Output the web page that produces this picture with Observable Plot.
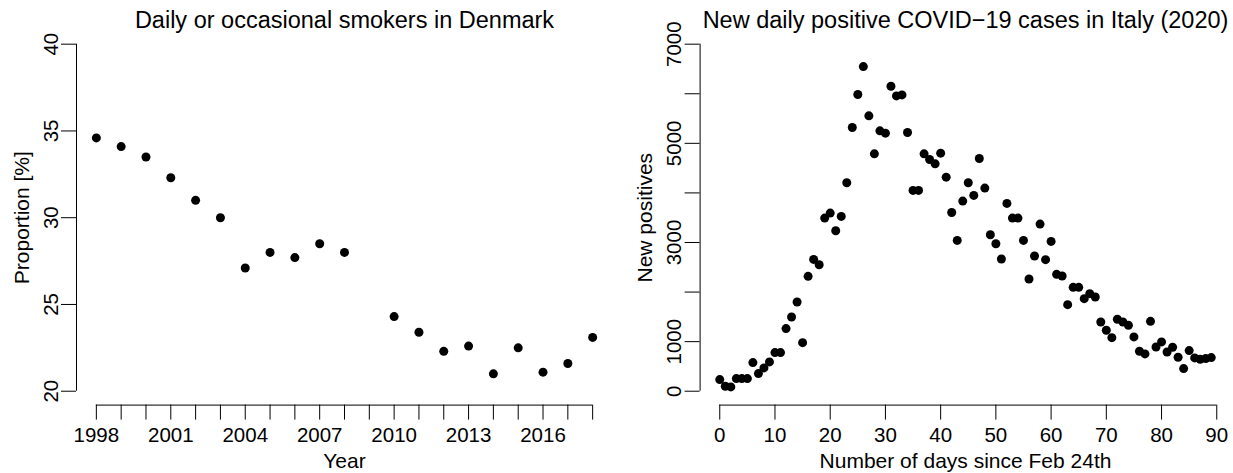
<!DOCTYPE html>
<html>
<head>
<meta charset="utf-8">
<script src="https://cdn.jsdelivr.net/npm/d3@7"></script>
<script src="https://cdn.jsdelivr.net/npm/@observablehq/plot@0.6"></script>
<style>
  html, body { margin: 0; padding: 0; background: #fff; }
  #wrap { display: flex; width: 1233px; height: 473px; overflow: hidden; }
  #wrap svg { display: block; }
</style>
</head>
<body>
<div id="wrap"></div>
<script>
// ---- Left panel data: Daily or occasional smokers in Denmark ----
const smokeYears = [1998, 1999, 2000, 2001, 2002, 2003, 2004, 2005, 2006, 2007, 2008,
                    2010, 2011, 2012, 2013, 2014, 2015, 2016, 2017, 2018];
const smokeProp  = [34.6, 34.1, 33.5, 32.3, 31.0, 30.0, 27.1, 28.0, 27.7, 28.5, 28.0,
                    24.3, 23.4, 22.3, 22.6, 21.0, 22.5, 21.1, 21.6, 23.1];
const smokeXTicks = [1998, 1999, 2000, 2001, 2002, 2003, 2004, 2005, 2006, 2007, 2008,
                     2009, 2010, 2011, 2012, 2013, 2014, 2015, 2016, 2017, 2018];
const smokeXLabels = [1998, 2001, 2004, 2007, 2010, 2013, 2016];
const smokeYTicks = [20, 25, 30, 35, 40];
const smokeYLabels = [20, 25, 30, 35, 40];

// ---- Right panel data: New daily positive COVID-19 cases in Italy (2020) ----
const covidDays = [0, 1, 2, 3, 4, 5, 6, 7, 8, 9, 10, 11, 12, 13, 14, 15, 16, 17, 18, 19,
                   20, 21, 22, 23, 24, 25, 26, 27, 28, 29, 30, 31, 32, 33, 34, 35, 36, 37, 38, 39,
                   40, 41, 42, 43, 44, 45, 46, 47, 48, 49, 50, 51, 52, 53, 54, 55, 56, 57, 58, 59,
                   60, 61, 62, 63, 64, 65, 66, 67, 68, 69, 70, 71, 72, 73, 74, 75, 76, 77, 78, 79,
                   80, 81, 82, 83, 84, 85, 86, 87, 88, 89];
const covidCases = [235, 100, 87, 255, 255, 255, 578, 356, 470, 591,
                    779, 779, 1263, 1498, 1800, 980, 2317, 2659, 2552, 3492,
                    3593, 3237, 3526, 4204, 5319, 5984, 6548, 5554, 4788, 5252,
                    5205, 6152, 5957, 5977, 5218, 4050, 4050, 4788, 4674, 4587,
                    4802, 4318, 3606, 3042, 3835, 4204, 3949, 4694, 4097, 3156,
                    2975, 2666, 3788, 3492, 3492, 3042, 2263, 2727, 3371, 2653,
                    3022, 2357, 2324, 1746, 2095, 2095, 1867, 1968, 1901, 1397,
                    1229, 1081, 1451, 1397, 1330, 1095, 806, 752, 1410, 893,
                    994, 792, 886, 685, 457, 819, 672, 645, 658, 678];
const covidXTicks = [0, 10, 20, 30, 40, 50, 60, 70, 80, 90];
const covidXLabels = [0, 10, 20, 30, 40, 50, 60, 70, 80, 90];
const covidYTicks = [0, 1000, 2000, 3000, 4000, 5000, 6000, 7000];
const covidYLabels = [0, 1000, 3000, 5000, 7000];

const FONT = "'Liberation Sans', Arial, Helvetica, sans-serif";
const TICK_FS = 20.5, LAB_FS = 21, TITLE_FS = 23.5;

// R-style 4% axis extension
function ext(lo, hi) { const p = (hi - lo) * 0.04; return [lo - p, hi + p]; }

function panel({width, marginLeft, marginRight, xs, ys, xTicks, xLabels, yTicks, yLabels,
                xDomain, yDomain, title, xlab, ylab}) {
  const data = xs.map((x, i) => ({x, y: ys[i]}));
  const fmt = (labels) => (d) => labels.includes(d) ? String(d) : "";
  return Plot.plot({
    width, height: 473,
    marginLeft, marginRight, marginTop: 29.8, marginBottom: 68.4,
    style: {fontFamily: FONT, background: "white", color: "black", overflow: "visible"},
    x: {domain: xDomain},
    y: {domain: yDomain},
    marks: [
      // axis lines (R style: from first to last tick)
      Plot.ruleY([yDomain[0]], {x1: xTicks[0], x2: xTicks[xTicks.length - 1], stroke: "black", strokeWidth: 1}),
      Plot.ruleX([xDomain[0]], {y1: yTicks[0], y2: yTicks[yTicks.length - 1], stroke: "black", strokeWidth: 1}),
      Plot.axisX(xTicks, {tickSize: 15, tickPadding: 7, fontSize: TICK_FS, tickFormat: fmt(xLabels), label: null, stroke: "black"}),
      Plot.axisY(yTicks, {tickSize: 15, tickPadding: 3.7, tickRotate: -90, fontSize: TICK_FS, tickFormat: fmt(yLabels), label: null, stroke: "black"}),
      Plot.dot(data, {x: "x", y: "y", r: 4.5, fill: "black", stroke: null}),
      Plot.text([title], {frameAnchor: "top", dy: -2.1, lineAnchor: "bottom", fontSize: TITLE_FS, fill: "black"}),
      Plot.text([xlab], {frameAnchor: "bottom", dy: 48, lineAnchor: "top", fontSize: LAB_FS, fill: "black"}),
      Plot.text([ylab], {frameAnchor: "left", dx: -47.7, rotate: -90, lineAnchor: "bottom", textAnchor: "middle", fontSize: LAB_FS, fill: "black"})
    ]
  });
}

const left = panel({
  width: 616, marginLeft: 76, marginRight: 4,
  xs: smokeYears, ys: smokeProp,
  xTicks: smokeXTicks, xLabels: smokeXLabels, yTicks: smokeYTicks, yLabels: smokeYLabels,
  xDomain: ext(smokeXTicks[0], smokeXTicks[smokeXTicks.length - 1]),
  yDomain: ext(smokeYTicks[0], smokeYTicks[smokeYTicks.length - 1]),
  title: "Daily or occasional smokers in Denmark",
  xlab: "Year", ylab: "Proportion [%]"
});

const right = panel({
  width: 617, marginLeft: 83.6, marginRight: 2.6,
  xs: covidDays, ys: covidCases,
  xTicks: covidXTicks, xLabels: covidXLabels, yTicks: covidYTicks, yLabels: covidYLabels,
  xDomain: ext(covidDays[0], covidDays[covidDays.length - 1]),
  yDomain: ext(covidYTicks[0], covidYTicks[covidYTicks.length - 1]),
  title: "New daily positive COVID\u221219 cases in Italy (2020)",
  xlab: "Number of days since Feb 24th", ylab: "New positives"
});

const wrap = document.getElementById("wrap");
wrap.appendChild(left);
wrap.appendChild(right);
</script>
</body>
</html>
